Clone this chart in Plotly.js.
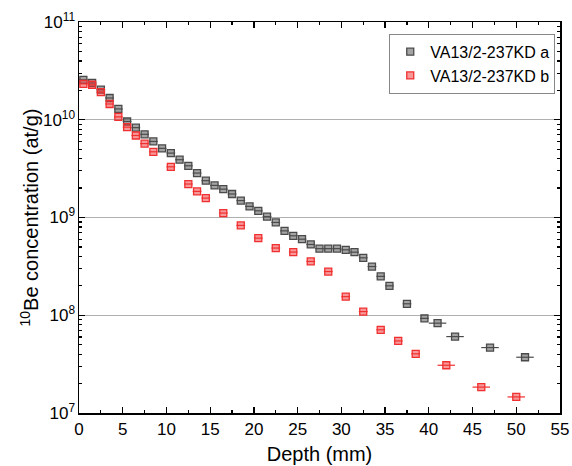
<!DOCTYPE html>
<html>
<head>
<meta charset="utf-8">
<script src="https://cdn.plot.ly/plotly-3.0.1.min.js"></script>
<style>html,body{margin:0;padding:0;background:#fff;}#chart{width:572px;height:466px;}</style>
</head>
<body>
<div id="chart"></div>
<script>
// Series a (black)
const depthA = [0.5,1.5,2.5,3.5,4.5,5.5,6.5,7.5,8.5,9.5,10.5,11.5,12.5,13.5,14.5,15.5,16.5,17.5,18.5,19.5,20.5,21.5,22.5,23.5,24.5,25.5,26.5,27.5,28.5,29.5,30.5,31.5,32.5,33.5,34.5,35.5,37.5,39.5,41,43,47,51];
const concA = [2.56e10,2.38e10,2.03e10,1.67e10,1.29e10,9.6e9,8.3e9,7.1e9,6.0e9,5.1e9,4.56e9,3.9e9,3.38e9,2.85e9,2.38e9,2.13e9,1.95e9,1.74e9,1.49e9,1.30e9,1.17e9,1.02e9,8.9e8,7.3e8,6.5e8,6.0e8,5.3e8,4.8e8,4.8e8,4.8e8,4.67e8,4.42e8,3.87e8,3.15e8,2.5e8,2.0e8,1.31e8,9.3e7,8.3e7,6.05e7,4.67e7,3.72e7];
const halfWidthA = [0.5,0.5,0.5,0.5,0.5,0.5,0.5,0.5,0.5,0.5,0.5,0.5,0.5,0.5,0.5,0.5,0.5,0.5,0.5,0.5,0.5,0.5,0.5,0.5,0.5,0.5,0.5,0.5,0.5,0.5,0.5,0.5,0.5,0.5,0.5,0.5,0.5,0.5,1,1,1,1];

// Series b (red)
const depthB = [0.5,1.5,2.5,3.5,4.5,5.5,6.5,7.5,8.5,10.5,12.5,13.5,14.5,16.5,18.5,20.5,22.5,24.5,26.5,28.5,30.5,32.5,34.5,36.5,38.5,42,46,50];
const concB = [2.33e10,2.28e10,1.92e10,1.45e10,1.07e10,8.4e9,6.9e9,5.7e9,4.7e9,3.3e9,2.2e9,1.85e9,1.58e9,1.11e9,8.3e8,6.15e8,4.87e8,4.43e8,3.55e8,2.8e8,1.55e8,1.09e8,7.1e7,5.46e7,4.03e7,3.08e7,1.84e7,1.46e7];
const halfWidthB = [0.5,0.5,0.5,0.5,0.5,0.5,0.5,0.5,0.5,0.5,0.5,0.5,0.5,0.5,0.5,0.5,0.5,0.5,0.5,0.5,0.5,0.5,0.5,0.5,0.5,1,1,1];

const nameA = 'VA13/2-237KD a';
const nameB = 'VA13/2-237KD b';
const yTitle = '<sup>10</sup>Be concentration (at/g)';
const xTitle = 'Depth (mm)';
const yTickVals = [1e7,1e8,1e9,1e10,1e11];
const yTickText = ['10<sup>7</sup>','10<sup>8</sup>','10<sup>9</sup>','10<sup>10</sup>','10<sup>11</sup>'];

const colA = '#4a4a4a';
const colB = '#f03030';

function trace(x, y, hw, name, col, fill) {
  return {
    x: x, y: y, name: name, type: 'scatter', mode: 'markers',
    marker: {symbol: 'square', size: 7, color: fill, line: {color: col, width: 1.3}},
    error_x: {type: 'data', array: hw, symmetric: true, color: col, thickness: 1.2, width: 0}
  };
}

const data = [
  trace(depthA, concA, halfWidthA, nameA, colA, 'rgba(74,74,74,0.5)'),
  trace(depthB, concB, halfWidthB, nameB, colB, 'rgba(240,48,48,0.5)')
];

const fam = 'Liberation Sans, Arial, sans-serif';
const axisFont = {family: fam, size: 17, color: '#000'};
const layout = {
  width: 572, height: 466,
  margin: {l: 79, r: 12, t: 22, b: 53},
  paper_bgcolor: '#fff', plot_bgcolor: '#fff',
  showlegend: true,
  legend: {
    x: 0.645, y: 0.97, xanchor: 'left', yanchor: 'top',
    bordercolor: '#888', borderwidth: 1, bgcolor: '#fff',
    font: {family: fam, size: 16, color: '#000'},
    itemwidth: 30, tracegroupgap: 0
  },
  xaxis: {
    range: [0, 55], tickvals: [0,5,10,15,20,25,30,35,40,45,50,55],
    ticks: 'inside', ticklen: 6, tickwidth: 1.2, tickcolor: '#000',
    showline: true, linecolor: '#000', linewidth: 1.5, mirror: 'allticks',
    showgrid: false, zeroline: false,
    minor: {tickvals: [2.5,7.5,12.5,17.5,22.5,27.5,32.5,37.5,42.5,47.5,52.5], ticks: 'inside', ticklen: 3, tickcolor: '#000', showgrid: false},
    tickfont: axisFont,
    title: {text: xTitle, font: {family: fam, size: 20, color: '#000'}, standoff: 9}
  },
  yaxis: {
    type: 'log', range: [7, 11],
    tickvals: yTickVals, ticktext: yTickText,
    ticks: 'inside', ticklen: 6, tickwidth: 1.2, tickcolor: '#000',
    ticklabelstandoff: -1,
    showline: true, linecolor: '#000', linewidth: 1.5, mirror: 'allticks',
    showgrid: true, gridcolor: '#b0b0b0', gridwidth: 1, zeroline: false,
    minor: {tickvals: [2e7,3e7,4e7,5e7,6e7,7e7,8e7,9e7,2e8,3e8,4e8,5e8,6e8,7e8,8e8,9e8,2e9,3e9,4e9,5e9,6e9,7e9,8e9,9e9,2e10,3e10,4e10,5e10,6e10,7e10,8e10,9e10], ticks: 'inside', ticklen: 3, tickcolor: '#000', showgrid: false},
    tickfont: axisFont
  },
  annotations: [{
    text: yTitle, textangle: -90, showarrow: false,
    xref: 'paper', yref: 'paper', x: 0, y: 0.5, xanchor: 'center', yanchor: 'middle',
    xshift: -50, yshift: 0,
    font: {family: fam, size: 20, color: '#000'}
  }]
};

Plotly.newPlot('chart', data, layout, {staticPlot: true, displayModeBar: false});
</script>
</body>
</html>
